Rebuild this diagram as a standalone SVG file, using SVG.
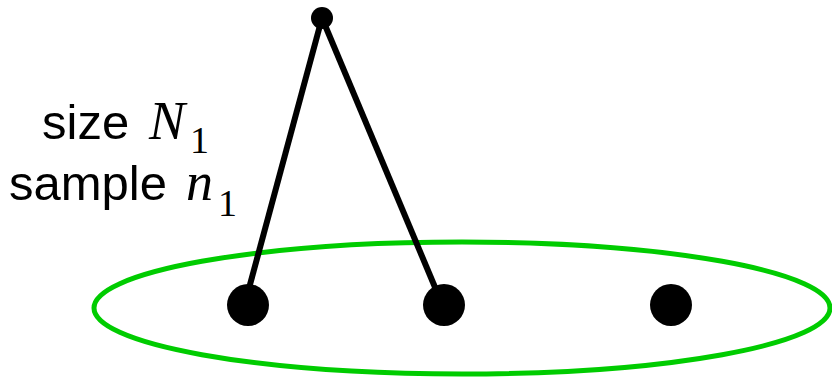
<svg xmlns="http://www.w3.org/2000/svg" width="832" height="378" viewBox="0 0 832 378">
<style>
.edge{stroke:#000;stroke-width:6;fill:none;stroke-linecap:butt}
.node{fill:#000}
.lbl{font-family:"Liberation Sans",Arial,sans-serif;font-size:49px;fill:#000}
.m{font-family:"Liberation Serif","Times New Roman",serif;font-style:italic;font-size:54px}
.sub{font-family:"Liberation Serif","Times New Roman",serif;font-size:38px;font-style:normal}
</style>
<g id="set">
<ellipse cx="462" cy="308" rx="368" ry="66" fill="none" stroke="#00cc00" stroke-width="5"/>
</g>
<g id="connectors">
<line class="edge" x1="322" y1="18" x2="248" y2="292"/>
<line class="edge" x1="322" y1="18" x2="437" y2="292"/>
</g>
<g id="root"><circle class="node" cx="322" cy="18" r="11"/></g>
<g id="n1"><circle class="node" cx="248" cy="305" r="21"/></g>
<g id="n2"><circle class="node" cx="444" cy="305" r="21"/></g>
<g id="n3"><circle class="node" cx="671" cy="305" r="21"/></g>
<g id="label">
<text class="lbl" x="42" y="139">size <tspan class="m" x="149">N</tspan><tspan class="sub" x="190" y="153">1</tspan></text>
<text class="lbl" x="9" y="200">sample <tspan class="m" x="186">n</tspan><tspan class="sub" x="218" y="216">1</tspan></text>
</g>
</svg>
